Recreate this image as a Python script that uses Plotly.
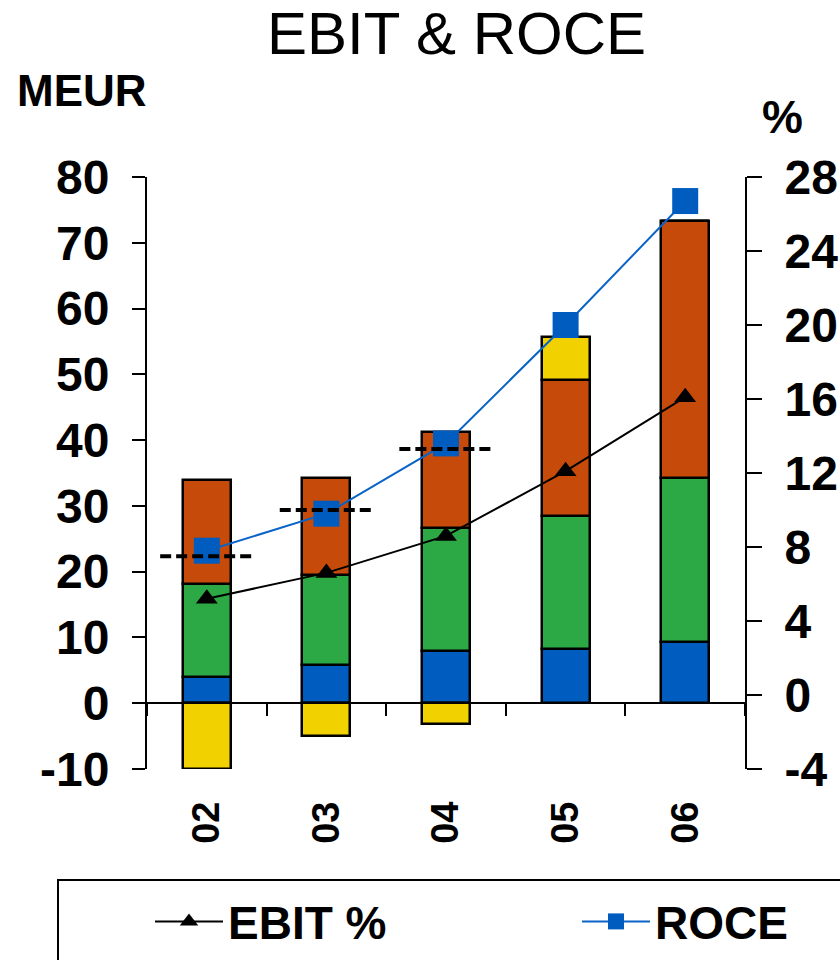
import plotly.graph_objects as go

# Fiscal years shown on the category axis
years = ["02", "03", "04", "05", "06"]

# Stacked EBIT contributions, MEUR (bottom to top)
seg_blue = [4.0, 5.8, 8.0, 8.2, 9.35]
seg_green = [14.1, 13.7, 18.7, 20.3, 24.85]
seg_orange = [15.8, 14.8, 14.5, 20.6, 39.1]
seg_yellow = [-10.0, -5.0, -3.2, 6.6, 0.0]

# Ratios, %
ebit_pct = [5.2, 6.6, 8.6, 12.1, 16.1]
roce = [7.8, 9.8, 13.6, 20.0, 26.7]

# Reference level per year (dashed marks), %
target_years = ["02", "03", "04"]
target_pct = [7.5, 10.0, 13.3]

left_ticks = list(range(-10, 81, 10))
left_labels = [str(v) for v in left_ticks]
right_ticks = list(range(-4, 29, 4))
right_labels = [str(v) for v in right_ticks]

FONT = "Liberation Sans, Arial, sans-serif"
BAR_W = 0.4
MARK_HALF = 0.39

# plot area in pixels
L, R, T, B = 147, 745, 177, 769
W, H = R - L, B - T


def px_x(px):
    return (px - L) / W


def px_y(py):
    return (B - py) / H


xpos = list(range(len(years)))

fig = go.Figure()

for name, vals, color in [
    ("Segment 1", seg_blue, "#005cbf"),
    ("Segment 2", seg_green, "#2ca844"),
    ("Segment 3", seg_orange, "#c64b0a"),
    ("Segment 4", seg_yellow, "#f2d100"),
]:
    fig.add_trace(go.Bar(
        x=xpos, y=vals, name=name, width=BAR_W,
        marker=dict(color=color, line=dict(color="black", width=2.5)),
        showlegend=False, xaxis="x", yaxis="y",
    ))

fig.add_trace(go.Scatter(
    x=xpos, y=ebit_pct, name="EBIT %", mode="lines+markers",
    line=dict(color="black", width=2),
    marker=dict(symbol="triangle-up", size=19, color="black"),
    xaxis="x", yaxis="y2", legend="legend",
))
fig.add_trace(go.Scatter(
    x=xpos, y=roce, name="ROCE", mode="lines+markers",
    line=dict(color="#0a64c8", width=2),
    marker=dict(symbol="square", size=26, color="#005cbf"),
    xaxis="x", yaxis="y2", legend="legend2",
))

# dashed reference marks, one short segment per year
for yr, val in zip(target_years, target_pct):
    i = years.index(yr)
    fig.add_trace(go.Scatter(
        x=[i - MARK_HALF, i + MARK_HALF], y=[val, val], mode="lines",
        line=dict(color="black", width=4, dash="11px,5px"),
        showlegend=False, hoverinfo="skip", xaxis="x2", yaxis="y2",
    ))

axis_font = dict(family=FONT, size=48, color="black", weight="bold")
legend_font = dict(family=FONT, size=46, color="black", weight="bold")

fig.update_layout(
    width=840, height=960,
    margin=dict(l=L, r=840 - R, t=T, b=960 - B, autoexpand=False),
    paper_bgcolor="white", plot_bgcolor="white",
    barmode="relative", bargap=0,
    showlegend=True,
    xaxis=dict(
        range=[-0.5, 4.5], tickvals=xpos, ticktext=years,
        tickangle=-90, showline=False, showgrid=False, zeroline=False,
        ticks="", ticklabelstandoff=24, automargin=False,
        tickfont=dict(family=FONT, size=38, color="black", weight="bold"),
    ),
    xaxis2=dict(
        range=[-0.5, 4.5], overlaying="x", anchor="free",
        position=(0 - (-10)) / 90, side="bottom",
        tickvals=[-0.5, 0.5, 1.5, 2.5, 3.5, 4.5],
        ticks="outside", ticklen=12, tickwidth=2, tickcolor="black",
        showticklabels=False, showline=True, linecolor="black", linewidth=2,
        showgrid=False, zeroline=False, automargin=False,
    ),
    yaxis=dict(
        range=[-10, 80], tickvals=left_ticks, ticktext=left_labels,
        showline=True, linecolor="black", linewidth=2,
        ticks="outside", ticklen=13, tickwidth=2, tickcolor="black",
        showgrid=False, zeroline=False, ticklabelstandoff=13,
        tickfont=axis_font, automargin=False,
    ),
    yaxis2=dict(
        range=[-4, 28], tickvals=right_ticks, ticktext=right_labels,
        overlaying="y", side="right", anchor="x",
        showline=True, linecolor="black", linewidth=2,
        ticks="outside", ticklen=15, tickwidth=2, tickcolor="black",
        showgrid=False, zeroline=False, ticklabelstandoff=13,
        tickfont=axis_font, automargin=False,
    ),
    legend=dict(
        orientation="h", x=px_x(150), y=px_y(885), xanchor="left", yanchor="top",
        font=legend_font, bgcolor="rgba(0,0,0,0)", borderwidth=0, itemwidth=68,
    ),
    legend2=dict(
        orientation="h", x=px_x(577), y=px_y(885), xanchor="left", yanchor="top",
        font=legend_font, bgcolor="rgba(0,0,0,0)", borderwidth=0, itemwidth=68,
    ),
    shapes=[dict(
        type="rect", xref="paper", yref="paper",
        x0=px_x(58), x1=px_x(900), y0=px_y(1000), y1=px_y(880),
        line=dict(color="black", width=2), fillcolor="rgba(0,0,0,0)",
        layer="below",
    )],
    annotations=[
        dict(text="EBIT & ROCE", xref="paper", yref="paper",
             x=px_x(456.5), y=px_y(33), xanchor="center", yanchor="middle",
             showarrow=False, font=dict(family=FONT, size=60, color="black")),
        dict(text="MEUR", xref="paper", yref="paper",
             x=px_x(81.5), y=px_y(90), xanchor="center", yanchor="middle",
             showarrow=False,
             font=dict(family=FONT, size=44, color="black", weight="bold")),
        dict(text="%", xref="paper", yref="paper",
             x=px_x(782.5), y=px_y(117), xanchor="center", yanchor="middle",
             showarrow=False,
             font=dict(family=FONT, size=46, color="black", weight="bold")),
    ],
)

fig.write_html("out.html")
